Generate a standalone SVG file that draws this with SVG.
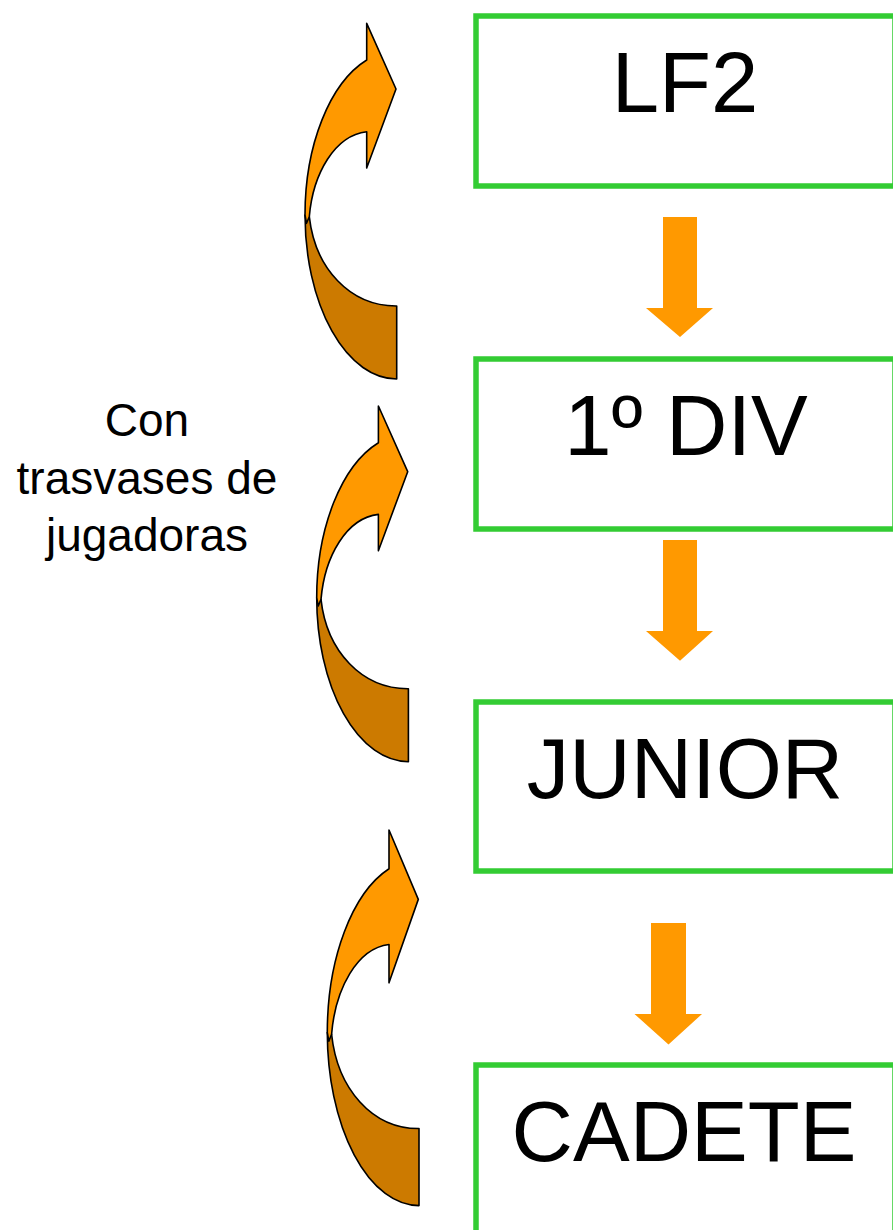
<svg xmlns="http://www.w3.org/2000/svg" xmlns:xlink="http://www.w3.org/1999/xlink" width="893" height="1230" viewBox="0 0 893 1230">
  <style>
    .box { fill: #ffffff; stroke: #33CC33; stroke-width: 5.5; }
    .label { font-family: "Liberation Sans", Arial, sans-serif; font-size: 85px; fill: #000000; text-anchor: middle; }
    .note { font-family: "Liberation Sans", Arial, sans-serif; font-size: 46px; fill: #000000; text-anchor: middle; }
    .down { fill: #FF9900; }
    .back { fill: #CC7A00; stroke: #000000; stroke-width: 1.6; stroke-linejoin: round; vector-effect: non-scaling-stroke; }
    .front { fill: #FF9900; stroke: #000000; stroke-width: 1.6; stroke-linejoin: round; vector-effect: non-scaling-stroke; }
  </style>
  <defs>
    <g id="curvedArrow">
      <path class="back" d="M91.7,355.7 A91.7,164 0 0 1 0,191.7 L4.3,193.4 C10,245 45,283 91.7,282.7 Z"/>
      <path class="front" d="M61.7,36.7 L61.7,0 L91,65.7 L61.7,144.7 L61.7,108.4 C30,112 8,150 4.3,193.4 L1.5,200 L0,191.7 A91.7,164 0 0 1 61.7,36.7 Z"/>
    </g>
  </defs>
  <rect width="893" height="1230" fill="#ffffff"/>

  <g id="node-lf2">
    <rect class="box" x="476" y="16" width="419" height="170"/>
    <text class="label" x="685" y="112">LF2</text>
  </g>
  <g id="node-1div">
    <rect class="box" x="476" y="359" width="419" height="170"/>
    <text class="label" x="686" y="455">1º DIV</text>
  </g>
  <g id="node-junior">
    <rect class="box" x="476" y="702" width="419" height="169"/>
    <text class="label" x="685" y="798">JUNIOR</text>
  </g>
  <g id="node-cadete">
    <rect class="box" x="476" y="1065" width="419" height="175"/>
    <text class="label" x="684" y="1161">CADETE</text>
  </g>

  <g id="note">
    <text class="note" x="147" y="436">Con</text>
    <text class="note" x="147" y="494">trasvases de</text>
    <text class="note" x="147" y="551">jugadoras</text>
  </g>

  <g id="connectors">
    <polygon class="down" points="663,217 697,217 697,308 713,308 680,337 646,308 663,308"/>
    <polygon class="down" points="663,540 697,540 697,631 713,631 680,660.7 646,631 663,631"/>
    <polygon class="down" points="651,923 686,923 686,1014 702,1014 668.5,1044.5 634.5,1014 651,1014"/>
    <use xlink:href="#curvedArrow" href="#curvedArrow" transform="translate(305,23.3)"/>
    <use xlink:href="#curvedArrow" href="#curvedArrow" transform="translate(316.7,406)"/>
    <use xlink:href="#curvedArrow" href="#curvedArrow" transform="translate(327.3,830) scale(1,1.056)"/>
  </g>
</svg>
